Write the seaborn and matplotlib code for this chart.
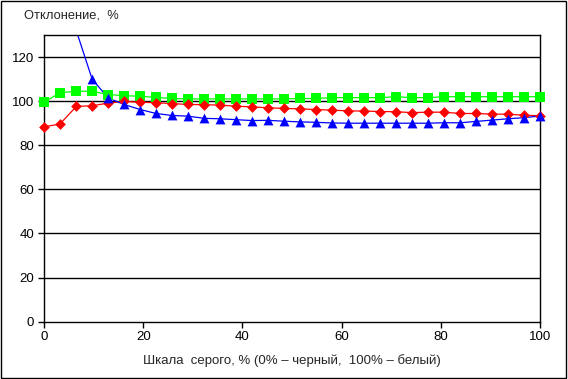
import matplotlib
matplotlib.use("Agg")
import matplotlib.pyplot as plt
import seaborn as sns
import pandas as pd
from matplotlib.patches import Rectangle

# Grayscale level, % (0% = black, 100% = white)
gray_level = [0.0, 3.2, 6.5, 9.7, 12.9, 16.1, 19.4, 22.6, 25.8, 29.0, 32.3, 35.5,
              38.7, 41.9, 45.2, 48.4, 51.6, 54.8, 58.1, 61.3, 64.5, 67.7, 71.0,
              74.2, 77.4, 80.6, 83.9, 87.1, 90.3, 93.5, 96.8, 100.0]

# Deviation, % for the three channels
dev_green = [99.5, 103.8, 104.5, 104.5, 103.0, 102.5, 102.2, 101.7, 101.2, 101.0,
             101.0, 101.0, 101.0, 101.0, 101.0, 101.0, 101.2, 101.2, 101.6, 101.6,
             101.6, 101.6, 102.0, 101.6, 101.6, 102.0, 102.0, 102.0, 102.0, 102.0,
             102.0, 102.0]
dev_red = [88.4, 89.6, 97.6, 97.9, 99.1, 99.9, 99.5, 99.3, 98.9, 98.5, 98.4, 98.2,
           97.7, 97.4, 97.0, 96.7, 96.5, 96.2, 95.9, 95.6, 95.5, 95.3, 95.2, 94.8,
           95.0, 95.0, 94.4, 94.4, 94.1, 94.1, 93.6, 93.4]
dev_blue = [250.0, 165.0, 132.0, 110.0, 101.5, 98.5, 96.2, 94.4, 93.5, 93.2, 92.2,
            92.0, 91.6, 91.2, 91.3, 90.9, 90.6, 90.4, 90.1, 90.0, 90.0, 90.0, 90.0,
            90.0, 90.0, 90.2, 90.2, 90.8, 91.4, 92.0, 92.5, 93.3]

y_ticks = [0, 20, 40, 60, 80, 100, 120]
x_ticks = [0, 20, 40, 60, 80, 100]

sns.set_theme(style="white")
plt.rcParams['font.family'] = ['Liberation Sans', 'DejaVu Sans']
plt.rcParams['font.size'] = 9

df = pd.DataFrame({'x': gray_level, 'g': dev_green, 'r': dev_red, 'b': dev_blue})
y_max = 130

fig = plt.figure(figsize=(5.68, 3.79), dpi=100)
ax = fig.add_axes([0.0775, 0.1512, 0.8732, 0.7565])

# thin connecting lines (clipped to the plot area)
sns.lineplot(data=df, x='x', y='g', ax=ax, color='#00FF00', linewidth=0.9, sort=False, zorder=2)
sns.lineplot(data=df, x='x', y='r', ax=ax, color='#FF0000', linewidth=0.9, sort=False, zorder=2.1)
sns.lineplot(data=df, x='x', y='b', ax=ax, color='#0000FF', linewidth=0.9, sort=False, zorder=2.2)

# markers are allowed to overhang the plot edges, like Excel does
vis = df[df['b'] <= y_max]
sns.scatterplot(data=df, x='x', y='g', ax=ax, color='#00FF00', marker='s', s=44,
                linewidth=0, clip_on=False, zorder=3)
sns.scatterplot(data=df, x='x', y='r', ax=ax, color='#FF0000', marker='D', s=30,
                linewidth=0, clip_on=False, zorder=4)
sns.scatterplot(data=vis, x='x', y='b', ax=ax, color='#0000FF', marker='^', s=50,
                linewidth=0, clip_on=False, zorder=5)

ax.set_xlim(0, 100)
ax.set_ylim(0, y_max)
ax.set_xticks(x_ticks)
ax.set_yticks(y_ticks)
for t in y_ticks[1:]:
    ax.axhline(t, color='black', linewidth=1.0, zorder=0.5)

for side in ['top', 'right', 'left', 'bottom']:
    ax.spines[side].set_color('black')
    ax.spines[side].set_linewidth(1.0)

ax.tick_params(axis='both', direction='out', length=4, width=1.0, color='black',
               labelsize=9.5, labelcolor='black', bottom=True, left=True, pad=3)

ax.set_xlabel('Шкала  серого, % (0% – черный,  100% – белый)', fontsize=9.5, labelpad=8)
ax.set_ylabel('')
fig.text(0.042, 0.958, 'Отклонение,  %', fontsize=9.3, ha='left', va='center')

# outer chart frame
fig.patches.append(Rectangle((0.002, 0.002), 0.995, 0.995, transform=fig.transFigure,
                             fill=False, edgecolor='black', linewidth=1.0))

fig.savefig('out.png', dpi=100)
